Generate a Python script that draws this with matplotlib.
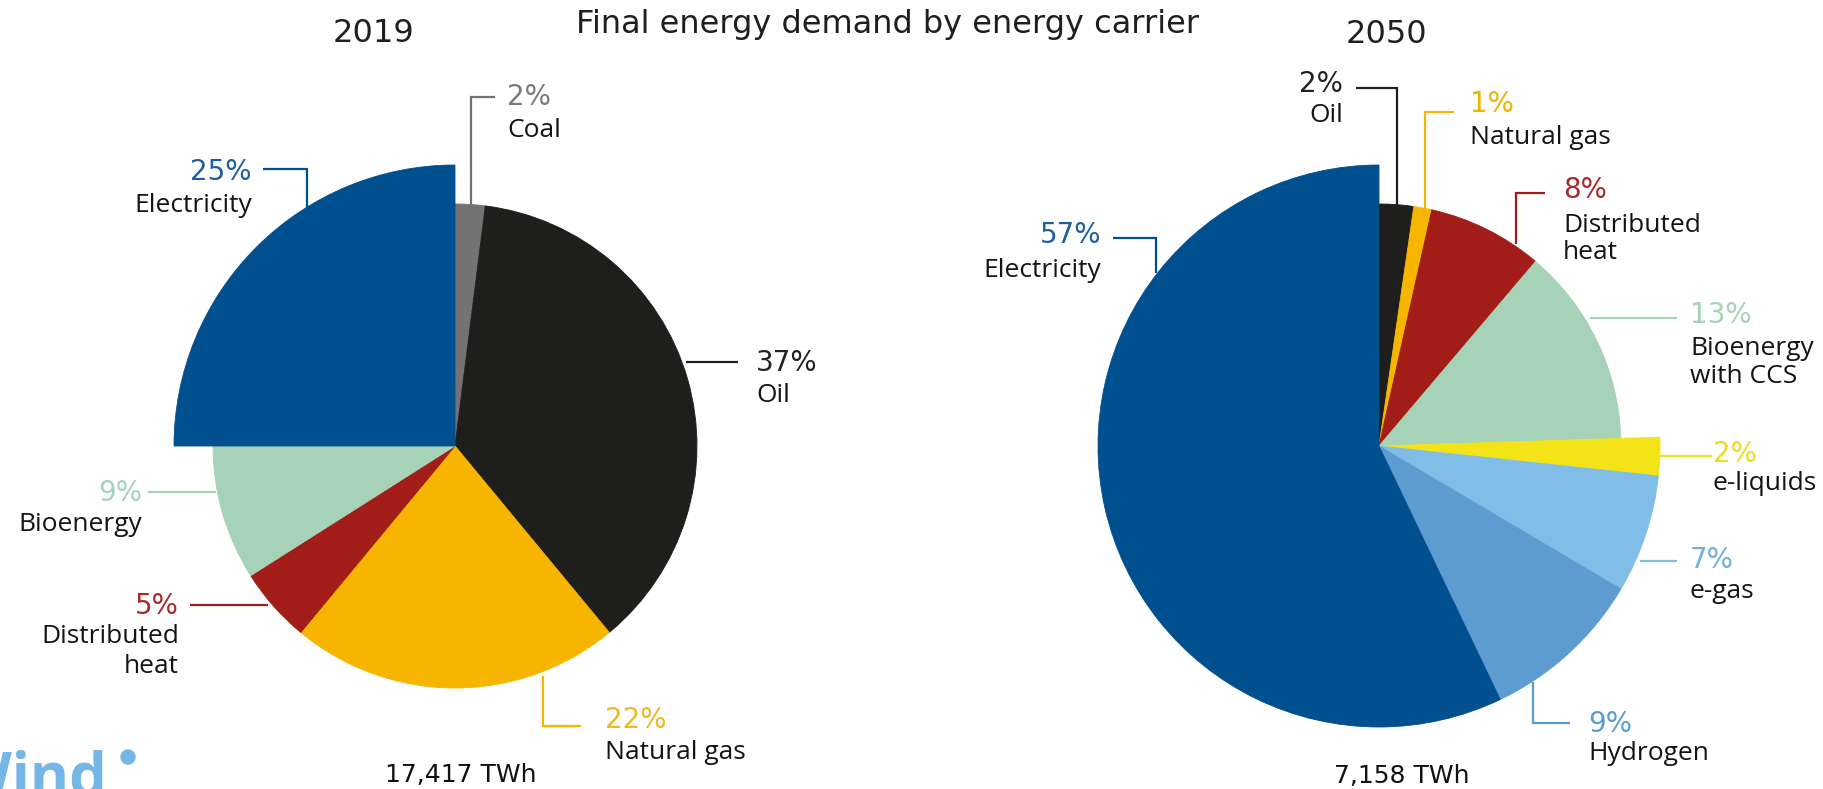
import matplotlib
matplotlib.use("Agg")
import matplotlib.pyplot as plt
from matplotlib.patches import Circle

# ---------------- data ----------------
carriers_2019 = ["Coal", "Oil", "Natural gas", "Distributed\nheat", "Bioenergy", "Electricity"]
shares_2019 = [2, 37, 22, 5, 9, 25]
colors_2019 = ["#737373", "#1e1e1c", "#F7B500", "#A21C18", "#A6D3B8", "#00508F"]
pct_colors_2019 = ["#7a7a7a", "#222222", "#EDB824", "#A8292A", "#A6D3B8", "#1E5E9E"]
big_2019 = [False, False, False, False, False, True]
total_2019 = "17,417 TWh"

carriers_2050 = ["Oil", "Natural gas", "Distributed\nheat", "Bioenergy\nwith CCS",
                 "e-liquids", "e-gas", "Hydrogen", "Electricity"]
shares_2050 = [2.3, 1.2, 7.7, 13.3, 2.2, 6.8, 9.4, 57.1]
colors_2050 = ["#1e1e1c", "#F7B500", "#A21C18", "#A6D3B8", "#F2E417", "#80BEE8", "#5C9CD0", "#00508F"]
pct_colors_2050 = ["#222222", "#F0B400", "#A8292A", "#A6D3B8", "#EBDD1E", "#6EB0E0", "#5C9CD0", "#1E5E9E"]
big_2050 = [False, False, False, False, True, True, True, True]
total_2050 = "7,158 TWh"

title = "Final energy demand by energy carrier"
years = ["2019", "2050"]

# ---------------- layout ----------------
W, H = 1824, 789
fig = plt.figure(figsize=(W / 100, H / 100), dpi=100)
ax = fig.add_axes([0, 0, 1, 1])

def yy(v):
    return H - v

PCT_FONT = "DejaVu Sans"
LBL_FONT = "Open Sans"
R_SMALL, R_BIG = 242, 281


def draw_pie(center, shares, colors, big):
    wedges, _ = ax.pie(shares, colors=colors, startangle=90, counterclock=False,
                       center=(center[0], yy(center[1])), radius=R_SMALL,
                       wedgeprops=dict(linewidth=0.6), normalize=True)
    for w, b, c in zip(wedges, big, colors):
        w.set_radius(R_BIG if b else R_SMALL)
        w.set_edgecolor(c)
    return wedges


draw_pie((455, 446), shares_2019, colors_2019, big_2019)
draw_pie((1379, 446), shares_2050, colors_2050, big_2050)


def leader(pts, color):
    xs = [p[0] for p in pts]
    ys = [yy(p[1]) for p in pts]
    ax.plot(xs, ys, color=color, lw=1.6, solid_capstyle="butt", solid_joinstyle="miter")


def label(x, y_pct, y_name, pct, name, pcol, ha, name_gap=None):
    ax.text(x, yy(y_pct), pct, color=pcol, fontsize=20, family=PCT_FONT,
            ha=ha, va="baseline")
    lines = name.split("\n")
    gap = name_gap if name_gap is not None else 29
    for i, ln in enumerate(lines):
        ax.text(x, yy(y_name + i * gap), ln, color="#141414", fontsize=19,
                family=LBL_FONT, ha=ha, va="baseline")


def pct(v):
    return f"{round(v)}%"

# ---- 2019 labels ----
leader([(495, 97), (471, 97), (471, 206)], colors_2019[0])
label(507, 105, 137, pct(shares_2019[0]), carriers_2019[0], pct_colors_2019[0], "left")
leader([(686, 362), (738, 362)], colors_2019[1])
label(756, 371, 402, pct(shares_2019[1]), carriers_2019[1], pct_colors_2019[1], "left")
leader([(543, 676), (543, 726), (581, 726)], colors_2019[2])
label(605, 728, 759, pct(shares_2019[2]), carriers_2019[2], pct_colors_2019[2], "left")
leader([(190, 605), (268, 605)], colors_2019[3])
label(179, 614, 643, pct(shares_2019[3]), carriers_2019[3], pct_colors_2019[3], "right", 30)
leader([(148, 492), (216, 492)], colors_2019[4])
label(142, 501, 531, pct(shares_2019[4]), carriers_2019[4], pct_colors_2019[4], "right")
leader([(263, 169), (307, 169), (307, 210)], colors_2019[5])
label(252, 180, 212, pct(shares_2019[5]), carriers_2019[5], pct_colors_2019[5], "right")

# ---- 2050 labels ----
leader([(1356, 88), (1397, 88), (1397, 206)], colors_2050[0])
label(1343, 92, 122, pct(shares_2050[0]), carriers_2050[0], pct_colors_2050[0], "right")
leader([(1454, 112), (1425, 112), (1425, 209)], colors_2050[1])
label(1470, 112, 144, pct(shares_2050[1]), carriers_2050[1], pct_colors_2050[1], "left")
leader([(1545, 193), (1516, 193), (1516, 244)], colors_2050[2])
label(1563, 198, 232, pct(shares_2050[2]), carriers_2050[2], pct_colors_2050[2], "left", 27)
leader([(1590, 318), (1677, 318)], colors_2050[3])
label(1690, 323, 355, pct(shares_2050[3]), carriers_2050[3], pct_colors_2050[3], "left", 28)
leader([(1660, 456), (1712, 456)], colors_2050[4])
label(1713, 462, 490, pct(shares_2050[4]), carriers_2050[4], pct_colors_2050[4], "left")
leader([(1640, 561), (1677, 561)], colors_2050[5])
label(1690, 568, 598, pct(shares_2050[5]), carriers_2050[5], pct_colors_2050[5], "left")
leader([(1533, 682), (1533, 723), (1570, 723)], colors_2050[6])
label(1588, 732, 760, pct(shares_2050[6]), carriers_2050[6], pct_colors_2050[6], "left")
leader([(1113, 238), (1156, 238), (1156, 273)], colors_2050[7])
label(1101, 243, 277, pct(shares_2050[7]), carriers_2050[7], pct_colors_2050[7], "right")

# ---- titles and totals ----
ax.text(888, yy(33), title, fontsize=23, family=PCT_FONT, color="#1f1f1f",
        ha="center", va="baseline")
ax.text(374, yy(42), years[0], fontsize=23, family=PCT_FONT, color="#1f1f1f",
        ha="center", va="baseline")
ax.text(1386, yy(43), years[1], fontsize=23, family=PCT_FONT, color="#1f1f1f",
        ha="center", va="baseline")
ax.text(461, yy(782), total_2019, fontsize=18, family=PCT_FONT, color="#111111",
        ha="center", va="baseline")
ax.text(1402, yy(783), total_2050, fontsize=18, family=PCT_FONT, color="#111111",
        ha="center", va="baseline")

# ---- partially visible logo (cut by the figure edge, as in the source) ----
ax.text(107, yy(795), "Wind", fontsize=43, family=LBL_FONT, weight="bold",
        color="#74B7E6", ha="right", va="baseline", clip_on=True)
ax.add_patch(Circle((128, yy(757)), 7, color="#74B7E6"))

ax.set_xlim(0, W)
ax.set_ylim(0, H)
ax.set_aspect("auto")
ax.axis("off")

fig.savefig("out.png", dpi=100, facecolor="white")
